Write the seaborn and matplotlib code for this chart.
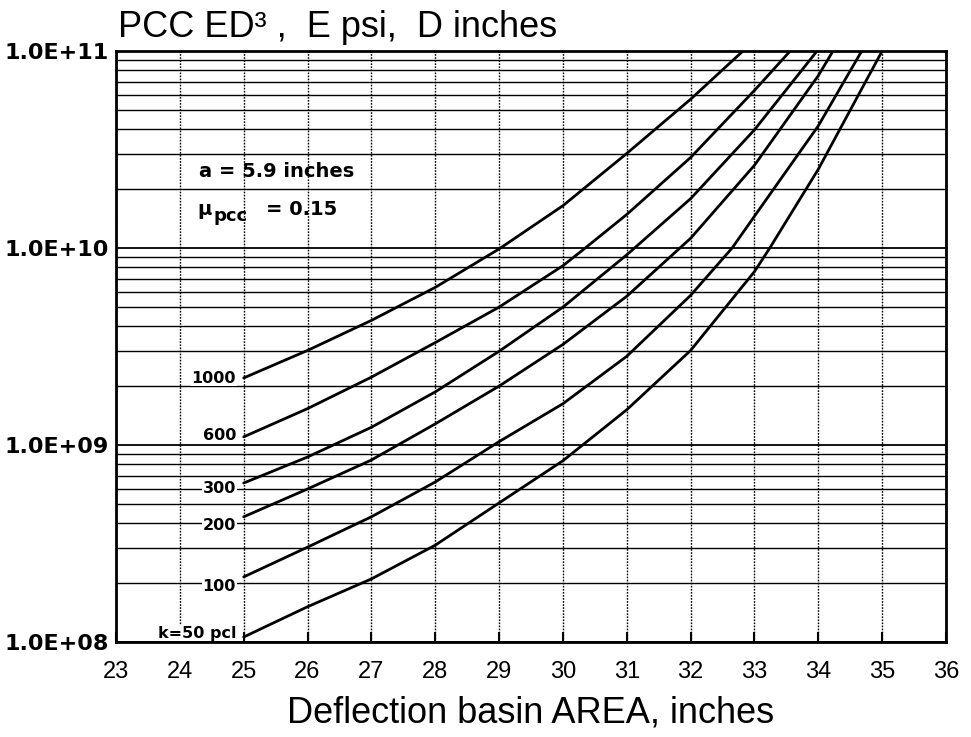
import numpy as np
import pandas as pd
import matplotlib
matplotlib.use("Agg")
import matplotlib.pyplot as plt
from matplotlib.ticker import LogLocator, NullFormatter, FixedLocator, FixedFormatter
import seaborn as sns

# ---- data ----
k_1000_x = [25, 26, 27, 28, 29, 30, 31, 32, 32.82]
k_1000_y = [2.19e9, 3.02e9, 4.29e9, 6.31e9, 9.89e9, 1.64e10, 3.02e10, 5.69e10, 1.0e11]

k_600_x = [25, 26, 27, 28, 29, 30, 30.35, 31, 32, 33, 33.56]
k_600_y = [1.10e9, 1.53e9, 2.21e9, 3.31e9, 5.01e9, 8.13e9, 1.0e10, 1.48e10, 2.88e10, 6.31e10, 1.0e11]

k_300_x = [25, 26, 27, 28, 29, 30, 31, 32, 33, 33.98]
k_300_y = [6.41e8, 8.69e8, 1.23e9, 1.86e9, 2.99e9, 5.01e9, 9.23e9, 1.78e10, 3.98e10, 1.0e11]

k_200_x = [25, 26, 27, 28, 29, 30, 31, 32, 33, 34, 34.23]
k_200_y = [4.32e8, 5.98e8, 8.39e8, 1.28e9, 1.99e9, 3.24e9, 5.69e9, 1.12e10, 2.63e10, 7.50e10, 1.0e11]

k_100_x = [25, 26, 27, 28, 29, 30, 31, 32, 32.65, 33, 34, 34.68]
k_100_y = [2.14e8, 3.03e8, 4.32e8, 6.49e8, 1.04e9, 1.62e9, 2.82e9, 5.75e9, 1.0e10, 1.45e10, 4.17e10, 1.0e11]

k_50_x = [25, 26, 27, 28, 29, 30, 31, 32, 33, 33.24, 34, 35.0]
k_50_y = [1.06e8, 1.51e8, 2.09e8, 3.10e8, 5.08e8, 8.32e8, 1.51e9, 3.02e9, 7.59e9, 1.0e10, 2.51e10, 1.0e11]

curve_labels = ["1000", "600", "300", "200", "100", "k=50 pcl"]
label_y = [2.07e9, 1.06e9, 5.70e8, 3.71e8, 1.82e8, 1.05e8]

x_ticks = list(range(23, 37))
y_ticks = [1e8, 1e9, 1e10, 1e11]
y_tick_labels = ["1.0E+08", "1.0E+09", "1.0E+10", "1.0E+11"]

title_text = "PCC ED\u00b3 ,  E psi,  D inches"
x_label = "Deflection basin AREA, inches"
note_a = "a = 5.9 inches"
note_mu_value = "= 0.15"

# ---- build long table ----
series = [("1000", k_1000_x, k_1000_y), ("600", k_600_x, k_600_y),
          ("300", k_300_x, k_300_y), ("200", k_200_x, k_200_y),
          ("100", k_100_x, k_100_y), ("50", k_50_x, k_50_y)]
rows = []
for k, xs, ys in series:
    for xv, yv in zip(xs, ys):
        rows.append({"k": k, "AREA": xv, "ED3": yv})
df = pd.DataFrame(rows)

sns.set_style("white")
plt.rcParams["font.family"] = ["Liberation Sans", "DejaVu Sans"]
plt.rcParams["text.color"] = "black"
plt.rcParams["axes.labelcolor"] = "black"
plt.rcParams["xtick.color"] = "black"
plt.rcParams["ytick.color"] = "black"

fig = plt.figure(figsize=(9.71, 7.37), dpi=100)
ax = fig.add_axes([116 / 971, 1 - 642 / 737, (946 - 116) / 971, (642 - 51) / 737])

sns.lineplot(data=df, x="AREA", y="ED3", hue="k", units="k", estimator=None,
             palette=["black"] * 6, linewidth=2.0, legend=False, ax=ax, sort=True)
for ln in ax.get_lines():
    ln.set_solid_joinstyle("round")
    ln.set_solid_capstyle("round")

ax.set_yscale("log")
ax.set_xlim(23, 36)
ax.set_ylim(1e8, 1e11)

ax.xaxis.set_major_locator(FixedLocator(x_ticks))
ax.set_xticklabels([str(t) for t in x_ticks])
ax.yaxis.set_major_locator(FixedLocator(y_ticks))
ax.yaxis.set_major_formatter(FixedFormatter(y_tick_labels))
ax.yaxis.set_minor_locator(LogLocator(base=10, subs=np.arange(2, 10)))
ax.yaxis.set_minor_formatter(NullFormatter())

ax.grid(False)
ax.yaxis.grid(True, which="major", color="black", linewidth=1.3)
ax.yaxis.grid(True, which="minor", color="black", linewidth=1.0)
ax.xaxis.grid(True, which="major", color="black", linewidth=1.0, linestyle=(0, (1.2, 1.0)))
ax.set_axisbelow(True)

ax.tick_params(axis="x", which="major", direction="in", length=7, width=1.5,
               labelsize=17, pad=14, bottom=True, top=False, colors="black")
ax.tick_params(axis="y", which="both", length=0, labelsize=16, pad=5, colors="black")
for lab in ax.get_yticklabels():
    lab.set_fontfamily("DejaVu Sans")
    lab.set_fontweight("bold")

for s in ax.spines.values():
    s.set_color("black")
    s.set_linewidth(2.0)

ax.set_xlabel(x_label, fontsize=26, labelpad=9, color="black")
ax.set_ylabel("")

bold_font = ["DejaVu Sans"]

# curve labels
for txt, yv in zip(curve_labels, label_y):
    ax.text(24.88, yv, txt, ha="right", va="baseline", fontsize=11.5, fontweight="bold",
            family=bold_font, color="black",
            bbox=dict(facecolor="white", edgecolor="none", pad=0.3), zorder=5)

# annotations
ax.text(24.30, 10 ** 10.360, note_a, ha="left", va="baseline", fontsize=14,
        fontweight="bold", family=bold_font, color="black", zorder=5)
ax.text(24.27, 10 ** 10.168, "\u03bc", ha="left", va="baseline", fontsize=14,
        fontweight="bold", family=bold_font, color="black", zorder=5)
ax.text(24.52, 10 ** 10.137, "pcc", ha="left", va="baseline", fontsize=13,
        fontweight="bold", family=bold_font, color="black", zorder=5)
ax.text(25.35, 10 ** 10.168, note_mu_value, ha="left", va="baseline", fontsize=14,
        fontweight="bold", family=bold_font, color="black", zorder=5)

fig.text(118 / 971, 1 - 37 / 737, title_text, ha="left", va="baseline", fontsize=26,
         color="black")

fig.savefig("out.png", dpi=100, facecolor="white")
